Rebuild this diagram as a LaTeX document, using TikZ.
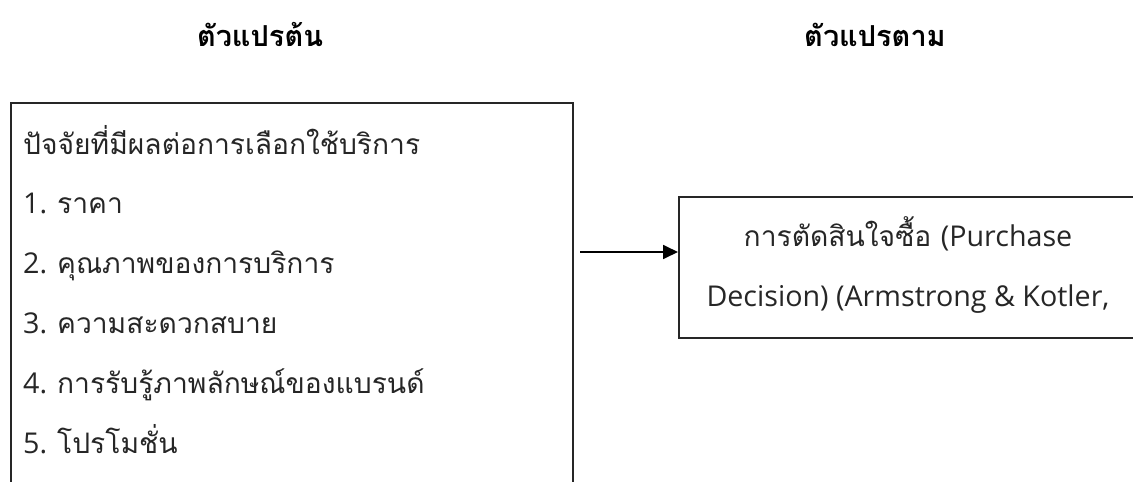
\documentclass[tikz,border=0pt]{standalone}
\usepackage{fontspec}
\setmainfont[Script=Thai]{Loma}
\newfontfamily\thaif[Script=Thai]{Loma}
\newfontfamily\latf{Open Sans}
\usetikzlibrary{arrows.meta}
\newlength\wlen
\AtBeginDocument{%
  \settowidth\wlen{\thaif\fontsize{20}{24}\selectfont ปัจจัยที่มีผลต่อการเลือกใช้บริการ}%
  \pgfmathsetmacro\thsz{20*397/\wlen}%
  \global\let\thsz\thsz
  \settowidth\wlen{\latf\fontsize{20}{24}\selectfont Decision) (Armstrong \& Kotler,}%
  \pgfmathsetmacro\ltsz{20*403/\wlen}%
  \global\let\ltsz\ltsz
  \settowidth\wlen{\thaif\bfseries\fontsize{20}{24}\selectfont ตัวแปรต้น}%
  \pgfmathsetmacro\hdsz{20*126/\wlen}%
  \global\let\hdsz\hdsz
}
\tikzset{
  frame/.style={draw=black!85, line width=1.5pt, fill=none, inner sep=0pt},
  bodytext/.style={font=\thaif\fontsize{\thsz}{\thsz}\selectfont, text=black!85, inner sep=0pt},
  headtext/.style={font=\thaif\bfseries\fontsize{\hdsz}{\hdsz}\selectfont, text=black, inner sep=0pt},
  conn/.style={line width=1.8pt, draw=black, -{Triangle[length=15pt,width=14pt]}}
}
\newcommand\lat[1]{{\latf\fontsize{\ltsz}{\ltsz}\selectfont #1}}
\begin{document}
\begin{tikzpicture}[x=1pt,y=-1pt]
\useasboundingbox (0,0) rectangle (1133,482);
\clip (0,0) rectangle (1133,482);
% boxes
\node[frame, anchor=north west, minimum width=562pt, minimum height=420pt] (left) at (10,102) {};
\node[frame, anchor=north west, minimum width=460pt, minimum height=141pt] (right) at (678,196) {};
% headings
\node[headtext, anchor=base] (h1) at (260,46) {ตัวแปรต้น};
\node[headtext, anchor=base] (h2) at (875,46) {ตัวแปรตาม};
% left text
\node[bodytext, anchor=base west] (t0) at (23,154) {ปัจจัยที่มีผลต่อการเลือกใช้บริการ};
\node[bodytext, anchor=base west] (t1) at (23,213) {\lat{1. }ราคา};
\node[bodytext, anchor=base west] (t2) at (23,273) {\lat{2. }คุณภาพของการบริการ};
\node[bodytext, anchor=base west] (t3) at (23,333) {\lat{3. }ความสะดวกสบาย};
\node[bodytext, anchor=base west] (t4) at (23,393) {\lat{4. }การรับรู้ภาพลักษณ์ของแบรนด์};
\node[bodytext, anchor=base west] (t5) at (23,453) {\lat{5. }โปรโมชั่น};
% right text
\node[bodytext, anchor=base] (r1) at (908,246) {การตัดสินใจซื้อ \lat{(Purchase}};
\node[bodytext, anchor=base] (r2) at (908,306) {\lat{Decision) (Armstrong \& Kotler,}};
% arrow
\coordinate (a1) at (580,252);
\draw[conn] (a1) -- (a1 -| right.west);
\end{tikzpicture}
\end{document}
